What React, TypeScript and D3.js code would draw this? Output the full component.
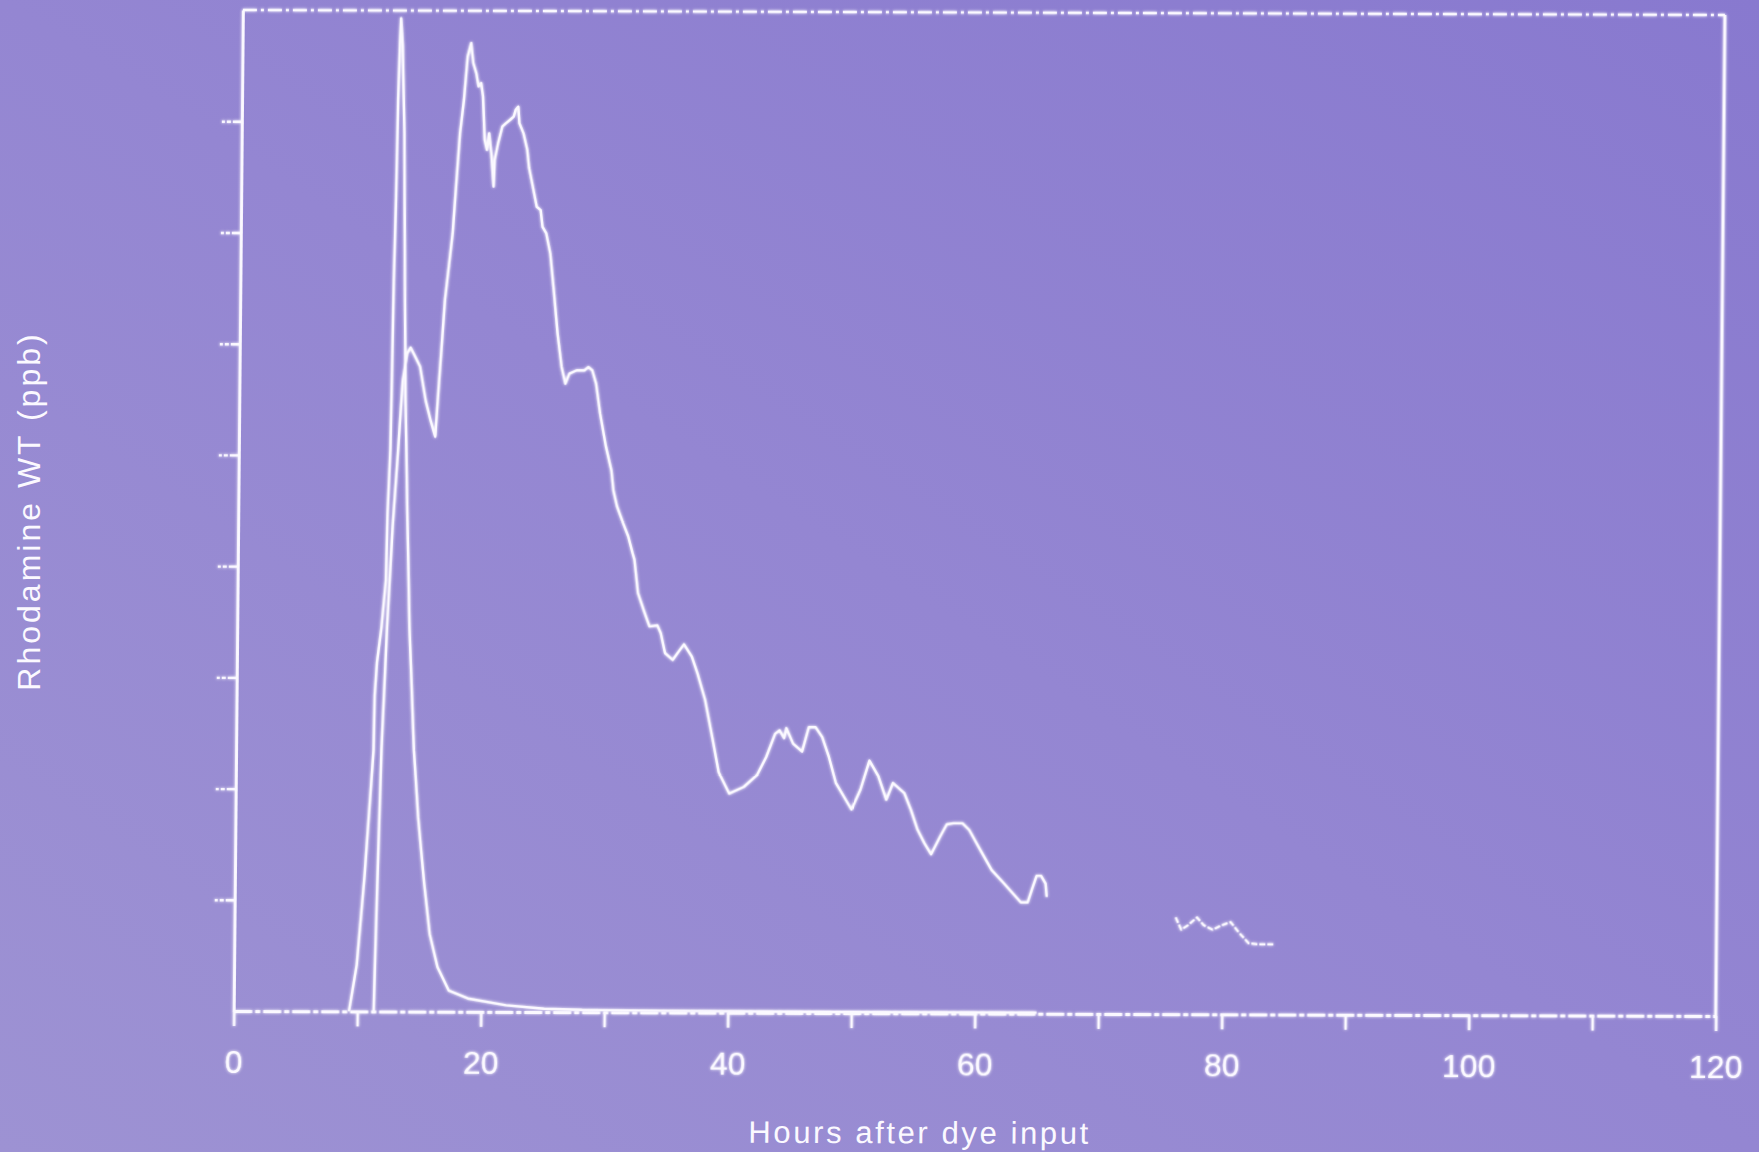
/**
 * Rhodamine WT breakthrough curves (photographed slide)
 */

import React, { useEffect, useRef } from 'react'
import * as d3 from 'd3'

// sharp early peak
const narrowHours = [9.33, 9.93, 10.5, 11.13, 11.18, 11.34, 11.68, 12.0, 12.09, 12.27, 12.32, 12.42, 12.54, 12.64, 12.74, 12.82, 12.97, 13.17, 13.32, 13.46, 13.67, 13.95, 14.4, 14.79, 15.32, 15.81, 16.47, 17.4, 18.95, 22.04, 25.13, 28.2, 35, 50, 65]
const narrowValues = [0, 0.42, 1.23, 2.35, 2.84, 3.14, 3.45, 3.88, 4.48, 5.06, 5.51, 6.57, 7.3, 8.2, 8.69, 8.93, 8.69, 7.89, 6.57, 5.51, 4.56, 3.45, 2.35, 1.75, 1.16, 0.7, 0.4, 0.19, 0.12, 0.06, 0.03, 0.02, 0.015, 0.01, 0.01]

// broad, long curve
const broadHours = [
  11.33, 11.51, 11.77, 12.13, 12.51, 12.9, 13.22, 13.56, 13.83, 14.2, 14.61, 15.1, 15.52, 15.89, 16.17, 16.58, 17.15, 17.67, 17.97, 18.24,
  18.51, 18.7, 18.95, 19.14, 19.35, 19.51, 19.67, 19.86, 20.03, 20.22, 20.43, 20.5, 20.76, 21.09, 21.38, 21.71, 22.01, 22.16, 22.37, 22.47,
  22.81, 23.13, 23.29, 23.61, 23.94, 24.26, 24.42, 24.73, 25.07, 25.41, 25.72, 26.07, 26.39, 26.7, 27.29, 27.92, 28.24, 28.56, 28.88, 29.23,
  29.71, 30.18, 30.36, 30.66, 31.16, 31.59, 31.95, 32.11, 32.42, 32.92, 33.38, 34.02, 34.3, 34.66, 35.28, 35.73, 36.19, 36.83, 37.3, 37.94,
  38.59, 39.09, 39.96, 41.13, 42.21, 42.93, 43.64, 44.0, 44.37, 44.54, 45.1, 45.83, 46.36, 46.9, 47.45, 48.01, 48.58, 49.87, 50.58, 51.29,
  52.02, 52.68, 53.21, 54.13, 54.68, 55.24, 55.8, 56.35, 57.07, 57.6, 58.15, 58.87, 59.42, 60.34, 61.27, 62.19, 62.92, 63.65, 64.2, 64.55,
  64.91, 65.27, 65.64, 65.74,
]
const broadValues = [
  0, 1.03, 2.35, 3.45, 4.36, 5.06, 5.67, 5.92, 5.97, 5.89, 5.8, 5.49, 5.31, 5.17, 5.68, 6.4, 7.0, 7.9, 8.2, 8.59,
  8.71, 8.53, 8.44, 8.32, 8.35, 8.23, 7.84, 7.75, 7.9, 7.72, 7.42, 7.66, 7.81, 7.96, 7.99, 8.02, 8.05, 8.11, 8.14, 7.99,
  7.9, 7.75, 7.59, 7.42, 7.24, 7.21, 7.06, 7.0, 6.82, 6.46, 6.1, 5.8, 5.65, 5.74, 5.77, 5.77, 5.8, 5.77, 5.65, 5.38,
  5.09, 4.87, 4.69, 4.55, 4.4, 4.28, 4.13, 4.07, 3.77, 3.61, 3.47, 3.48, 3.41, 3.23, 3.17, 3.24, 3.31, 3.2, 3.05, 2.81,
  2.45, 2.16, 1.97, 2.03, 2.14, 2.3, 2.51, 2.54, 2.47, 2.56, 2.42, 2.35, 2.57, 2.57, 2.48, 2.3, 2.07, 1.83, 2.01, 2.27,
  2.13, 1.92, 2.07, 1.98, 1.83, 1.65, 1.53, 1.43, 1.59, 1.7, 1.71, 1.71, 1.65, 1.47, 1.29, 1.18, 1.09, 1.0, 1.0, 1.12,
  1.24, 1.24, 1.17, 1.05,
]

// late readings after the gap
const lateHours = [76.2, 76.66, 77.2, 77.93, 78.48, 79.21, 79.93, 80.65, 81.3, 82.12, 82.85, 84.12]
const lateValues = [0.87, 0.76, 0.8, 0.87, 0.8, 0.76, 0.8, 0.83, 0.74, 0.64, 0.63, 0.63]

const xTicks = [0, 10, 20, 30, 40, 50, 60, 70, 80, 90, 100, 110, 120]
const yTicks = [1, 2, 3, 4, 5, 6, 7, 8]

const App = () => {
  const refSvg = useRef(null)
  const width = 1759
  const height = 1152
  const W = 1482
  const H = 1001
  const ink = '#fbf9ff'

  const draw = () => {
    const root = d3.select(refSvg.current)
    root.selectAll('*').remove()

    const defs = root.append('defs')
    const grad = defs.append('linearGradient').attr('id', 'bg').attr('x1', 0).attr('y1', 1).attr('x2', 1).attr('y2', 0)
    grad.append('stop').attr('offset', '0%').attr('stop-color', '#9d92d3')
    grad.append('stop').attr('offset', '50%').attr('stop-color', '#9486d2')
    grad.append('stop').attr('offset', '100%').attr('stop-color', '#8879cf')
    const glow = defs.append('filter').attr('id', 'glow').attr('x', '-5%').attr('y', '-5%').attr('width', '110%').attr('height', '110%')
    glow.append('feGaussianBlur').attr('stdDeviation', 1.5).attr('result', 'b')
    const merge = glow.append('feMerge')
    merge.append('feMergeNode').attr('in', 'b')
    merge.append('feMergeNode').attr('in', 'SourceGraphic')

    root.append('rect').attr('width', width).attr('height', height).attr('fill', 'url(#bg)')

    // the slide is photographed slightly askew
    const svg = root.append('g').attr('transform', 'matrix(1,0.003374,-0.00919,1,242.9,10)')

    const x = d3.scaleLinear().domain([0, 120]).range([0, W])
    const y = d3.scaleLinear().domain([0, 9]).range([H, 0])

    const frame = svg.append('g').attr('stroke', ink).attr('fill', 'none').attr('filter', 'url(#glow)')
    frame.append('line').attr('x1', 0).attr('y1', 0).attr('x2', W).attr('y2', 0)
      .attr('stroke-width', 2.6).attr('stroke-dasharray', '14 4 3 4')
    frame.append('line').attr('x1', W).attr('y1', 0).attr('x2', W).attr('y2', H).attr('stroke-width', 2.8)

    const xAxis = svg.append('g').attr('transform', `translate(0,${H})`)
      .call(d3.axisBottom(x).tickValues(xTicks).tickSize(15).tickSizeOuter(0).tickPadding(24)
        .tickFormat((d) => ((d as number) % 20 === 0 ? String(d) : '')))
    xAxis.select('.domain').attr('stroke', ink).attr('stroke-width', 3).attr('stroke-dasharray', '18 3 5 3')
    xAxis.selectAll('.tick line').attr('stroke', ink).attr('stroke-width', 2.4)
    xAxis.selectAll('.tick text').attr('fill', ink).attr('font-size', 32)
      .attr('font-family', '"Liberation Sans", Arial, sans-serif')

    const yAxis = svg.append('g')
      .call(d3.axisLeft(y).tickValues(yTicks).tickSize(21).tickSizeOuter(0).tickFormat(() => ''))
    yAxis.select('.domain').attr('stroke', ink).attr('stroke-width', 2.8)
    yAxis.selectAll('.tick line').attr('stroke', ink).attr('stroke-width', 2.4).attr('stroke-dasharray', '9 2 4 2 3')
    xAxis.attr('filter', 'url(#glow)')
    yAxis.attr('filter', 'url(#glow)')

    const line = d3.line<[number, number]>().x((d) => x(d[0])).y((d) => y(d[1]))
    const curves = svg.append('g').attr('fill', 'none').attr('stroke', ink).attr('stroke-width', 2.4)
      .attr('stroke-linejoin', 'round').attr('filter', 'url(#glow)')
    curves.append('path').attr('d', line(narrowHours.map((h, i) => [h, narrowValues[i]]) as [number, number][]))
    curves.append('path').attr('d', line(broadHours.map((h, i) => [h, broadValues[i]]) as [number, number][]))
    curves.append('path').attr('d', line(lateHours.map((h, i) => [h, lateValues[i]]) as [number, number][]))
      .attr('stroke-width', 2.2).attr('stroke-dasharray', '6 2')

    svg.append('text').attr('x', 687).attr('y', 1131).attr('text-anchor', 'middle')
      .attr('fill', ink).attr('font-size', 31).attr('letter-spacing', 2.6)
      .attr('font-family', '"Liberation Sans", Arial, sans-serif')
      .text('Hours after dye input')

    root.append('text').attr('transform', 'translate(40,511) rotate(-90)').attr('text-anchor', 'middle')
      .attr('fill', ink).attr('font-size', 32).attr('letter-spacing', 3)
      .attr('font-family', '"Liberation Sans", Arial, sans-serif')
      .text('Rhodamine WT (ppb)')
  }

  useEffect(() => {
    if (refSvg) {
      draw()
    }
  })

  return (
    <svg ref={refSvg} width={width} height={height}
      style={{ position: 'absolute', left: 0, top: 0, display: 'block' }} />
  )
}

export default App
